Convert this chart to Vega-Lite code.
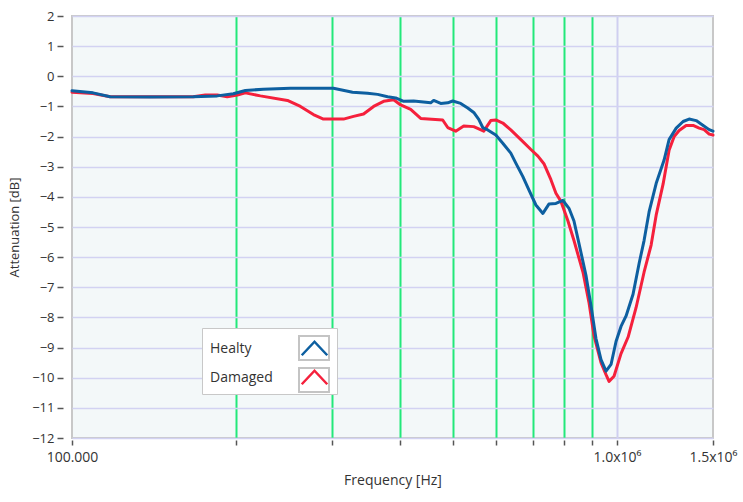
{
  "$schema": "https://vega.github.io/schema/vega-lite/v6.json",
  "autosize": "none",
  "width": 641,
  "height": 422,
  "padding": {"left": 72, "top": 16, "right": 30, "bottom": 64},
  "background": "white",
  "config": {
    "view": {"fill": "#f3f8f9", "stroke": "#c8c8c8", "strokeWidth": 2},
    "font": "Open Sans"
  },
  "data": {
    "values": [
      {"s": "Damaged", "f": 100000, "db": -0.53},
      {"s": "Damaged", "f": 109300, "db": -0.57},
      {"s": "Damaged", "f": 117500, "db": -0.68},
      {"s": "Damaged", "f": 166900, "db": -0.68},
      {"s": "Damaged", "f": 175600, "db": -0.62},
      {"s": "Damaged", "f": 184700, "db": -0.62},
      {"s": "Damaged", "f": 192700, "db": -0.68},
      {"s": "Damaged", "f": 201100, "db": -0.62},
      {"s": "Damaged", "f": 208000, "db": -0.55},
      {"s": "Damaged", "f": 221600, "db": -0.65},
      {"s": "Damaged", "f": 248500, "db": -0.80},
      {"s": "Damaged", "f": 262500, "db": -1.00},
      {"s": "Damaged", "f": 277300, "db": -1.27},
      {"s": "Damaged", "f": 289300, "db": -1.42},
      {"s": "Damaged", "f": 314900, "db": -1.42},
      {"s": "Damaged", "f": 328500, "db": -1.33},
      {"s": "Damaged", "f": 342700, "db": -1.25},
      {"s": "Damaged", "f": 357600, "db": -1.00},
      {"s": "Damaged", "f": 373000, "db": -0.83},
      {"s": "Damaged", "f": 389200, "db": -0.78},
      {"s": "Damaged", "f": 400900, "db": -0.95},
      {"s": "Damaged", "f": 418200, "db": -1.10},
      {"s": "Damaged", "f": 436300, "db": -1.40},
      {"s": "Damaged", "f": 478800, "db": -1.45},
      {"s": "Damaged", "f": 489100, "db": -1.70},
      {"s": "Damaged", "f": 505800, "db": -1.82},
      {"s": "Damaged", "f": 523300, "db": -1.65},
      {"s": "Damaged", "f": 545900, "db": -1.67},
      {"s": "Damaged", "f": 569500, "db": -1.82},
      {"s": "Damaged", "f": 586600, "db": -1.47},
      {"s": "Damaged", "f": 599200, "db": -1.45},
      {"s": "Damaged", "f": 617200, "db": -1.55},
      {"s": "Damaged", "f": 638400, "db": -1.78},
      {"s": "Damaged", "f": 666100, "db": -2.10},
      {"s": "Damaged", "f": 695000, "db": -2.43},
      {"s": "Damaged", "f": 715900, "db": -2.65},
      {"s": "Damaged", "f": 734300, "db": -2.90},
      {"s": "Damaged", "f": 756300, "db": -3.43},
      {"s": "Damaged", "f": 772500, "db": -3.88},
      {"s": "Damaged", "f": 789100, "db": -4.15},
      {"s": "Damaged", "f": 812800, "db": -4.80},
      {"s": "Damaged", "f": 833700, "db": -5.45},
      {"s": "Damaged", "f": 866100, "db": -6.50},
      {"s": "Damaged", "f": 888200, "db": -7.50},
      {"s": "Damaged", "f": 907200, "db": -8.60},
      {"s": "Damaged", "f": 934600, "db": -9.50},
      {"s": "Damaged", "f": 954600, "db": -9.90},
      {"s": "Damaged", "f": 966800, "db": -10.12},
      {"s": "Damaged", "f": 987400, "db": -9.95},
      {"s": "Damaged", "f": 1017000, "db": -9.20},
      {"s": "Damaged", "f": 1048000, "db": -8.65},
      {"s": "Damaged", "f": 1084000, "db": -7.67},
      {"s": "Damaged", "f": 1121000, "db": -6.50},
      {"s": "Damaged", "f": 1155000, "db": -5.60},
      {"s": "Damaged", "f": 1180000, "db": -4.60},
      {"s": "Damaged", "f": 1215000, "db": -3.57},
      {"s": "Damaged", "f": 1246000, "db": -2.45},
      {"s": "Damaged", "f": 1273000, "db": -2.00},
      {"s": "Damaged", "f": 1300000, "db": -1.80},
      {"s": "Damaged", "f": 1339000, "db": -1.63},
      {"s": "Damaged", "f": 1379000, "db": -1.63},
      {"s": "Damaged", "f": 1415000, "db": -1.72},
      {"s": "Damaged", "f": 1445000, "db": -1.77},
      {"s": "Damaged", "f": 1476000, "db": -1.92},
      {"s": "Damaged", "f": 1500000, "db": -1.95},
      {"s": "Healty", "f": 100000, "db": -0.48},
      {"s": "Healty", "f": 109300, "db": -0.55},
      {"s": "Healty", "f": 117500, "db": -0.68},
      {"s": "Healty", "f": 139100, "db": -0.69},
      {"s": "Healty", "f": 166900, "db": -0.68},
      {"s": "Healty", "f": 184700, "db": -0.65},
      {"s": "Healty", "f": 197700, "db": -0.58},
      {"s": "Healty", "f": 208000, "db": -0.47},
      {"s": "Healty", "f": 224400, "db": -0.43},
      {"s": "Healty", "f": 251600, "db": -0.40},
      {"s": "Healty", "f": 301800, "db": -0.40},
      {"s": "Healty", "f": 327100, "db": -0.53},
      {"s": "Healty", "f": 348600, "db": -0.56},
      {"s": "Healty", "f": 363700, "db": -0.60},
      {"s": "Healty", "f": 379400, "db": -0.68},
      {"s": "Healty", "f": 392500, "db": -0.72},
      {"s": "Healty", "f": 406000, "db": -0.83},
      {"s": "Healty", "f": 423500, "db": -0.82},
      {"s": "Healty", "f": 455100, "db": -0.88},
      {"s": "Healty", "f": 460900, "db": -0.80},
      {"s": "Healty", "f": 474800, "db": -0.90},
      {"s": "Healty", "f": 489100, "db": -0.88},
      {"s": "Healty", "f": 499500, "db": -0.82},
      {"s": "Healty", "f": 516600, "db": -0.90},
      {"s": "Healty", "f": 532200, "db": -1.05},
      {"s": "Healty", "f": 545900, "db": -1.20},
      {"s": "Healty", "f": 557600, "db": -1.43},
      {"s": "Healty", "f": 567100, "db": -1.70},
      {"s": "Healty", "f": 579200, "db": -1.78},
      {"s": "Healty", "f": 599200, "db": -1.95},
      {"s": "Healty", "f": 617200, "db": -2.22},
      {"s": "Healty", "f": 638400, "db": -2.55},
      {"s": "Healty", "f": 652100, "db": -2.88},
      {"s": "Healty", "f": 671800, "db": -3.33},
      {"s": "Healty", "f": 689100, "db": -3.77},
      {"s": "Healty", "f": 709800, "db": -4.27},
      {"s": "Healty", "f": 731100, "db": -4.55},
      {"s": "Healty", "f": 749900, "db": -4.24},
      {"s": "Healty", "f": 772500, "db": -4.22},
      {"s": "Healty", "f": 795800, "db": -4.12},
      {"s": "Healty", "f": 816300, "db": -4.38},
      {"s": "Healty", "f": 833700, "db": -4.80},
      {"s": "Healty", "f": 848000, "db": -5.40},
      {"s": "Healty", "f": 877000, "db": -6.60},
      {"s": "Healty", "f": 895700, "db": -7.60},
      {"s": "Healty", "f": 914900, "db": -8.70},
      {"s": "Healty", "f": 934600, "db": -9.40},
      {"s": "Healty", "f": 954600, "db": -9.78},
      {"s": "Healty", "f": 975000, "db": -9.56},
      {"s": "Healty", "f": 995800, "db": -8.80},
      {"s": "Healty", "f": 1017000, "db": -8.30},
      {"s": "Healty", "f": 1039000, "db": -7.95},
      {"s": "Healty", "f": 1070000, "db": -7.23},
      {"s": "Healty", "f": 1098000, "db": -6.20},
      {"s": "Healty", "f": 1121000, "db": -5.45},
      {"s": "Healty", "f": 1145000, "db": -4.50},
      {"s": "Healty", "f": 1180000, "db": -3.55},
      {"s": "Healty", "f": 1220000, "db": -2.78},
      {"s": "Healty", "f": 1246000, "db": -2.10},
      {"s": "Healty", "f": 1284000, "db": -1.72},
      {"s": "Healty", "f": 1322000, "db": -1.50},
      {"s": "Healty", "f": 1356000, "db": -1.42},
      {"s": "Healty", "f": 1397000, "db": -1.47},
      {"s": "Healty", "f": 1439000, "db": -1.63},
      {"s": "Healty", "f": 1476000, "db": -1.77},
      {"s": "Healty", "f": 1500000, "db": -1.82}
    ]
  },
  "encoding": {
    "x": {
      "field": "f",
      "type": "quantitative",
      "scale": {"type": "log", "domain": [100000, 1500000], "nice": false},
      "axis": {
        "title": "Frequency [Hz]",
        "values": [100000, 200000, 300000, 400000, 500000, 600000, 700000, 800000, 900000, 1000000, 1500000],
        "labelExpr": "datum.value == 100000 ? '100.000' : datum.value == 1000000 ? '1.0x10⁶' : datum.value == 1500000 ? '1.5x10⁶' : ''",
        "domain": false,
        "offset": 2,
        "tickSize": 5,
        "tickColor": "#555555",
        "tickWidth": 1.5,
        "labelPadding": 5,
        "labelFontSize": 14,
        "labelColor": "#333333",
        "labelFlush": false,
        "labelOverlap": false,
        "titleFontSize": 14,
        "titleFontWeight": "normal",
        "titleColor": "#333333",
        "titlePadding": 9,
        "grid": true,
        "gridWidth": 2,
        "gridColor": {
          "condition": [
            {"test": "datum.value == 1000000", "value": "#cfcff0"},
            {"test": "datum.value < 150000 || datum.value > 1400000", "value": "transparent"}
          ],
          "value": "#22e87a"
        }
      }
    },
    "y": {
      "field": "db",
      "type": "quantitative",
      "scale": {"domain": [-12, 2], "nice": false},
      "axis": {
        "title": "Attenuation [dB]",
        "values": [-12, -11, -10, -9, -8, -7, -6, -5, -4, -3, -2, -1, 0, 1, 2],
        "format": "d",
        "domain": false,
        "offset": 9,
        "tickSize": 6,
        "tickColor": "#555555",
        "tickWidth": 1.5,
        "labelPadding": 3,
        "labelFontSize": 13,
        "labelColor": "#333333",
        "titleFontSize": 13,
        "titleFontWeight": "normal",
        "titleColor": "#333333",
        "titlePadding": 10,
        "grid": true,
        "gridColor": "#d2d2f2",
        "gridWidth": 1.5
      }
    }
  },
  "layer": [
    {
      "mark": {"type": "line", "strokeWidth": 3, "strokeJoin": "round", "strokeCap": "round"},
      "encoding": {
        "color": {
          "field": "s",
          "type": "nominal",
          "scale": {"domain": ["Healty", "Damaged"], "range": ["#0d5fa0", "#f5203c"]},
          "legend": {
            "orient": "none",
            "legendX": 130,
            "legendY": 312,
            "zindex": 1,
            "title": null,
            "direction": "vertical",
            "padding": 4,
            "strokeColor": "#c8c8c8",
            "fillColor": "white",
            "symbolType": "M-0.85,0.45L0,-0.45L0.85,0.45",
            "symbolSize": 900,
            "symbolStrokeWidth": 2.5,
            "symbolFillColor": "transparent",
            "symbolOffset": 92,
            "labelOffset": -121,
            "labelFontSize": 14,
            "labelColor": "#333333",
            "labelLimit": 200,
            "rowPadding": 0
          }
        }
      }
    },
    {
      "mark": {"type": "point", "filled": false, "color": "#c4c4c4", "opacity": 0},
      "encoding": {
        "shape": {
          "field": "s",
          "type": "nominal",
          "scale": {"range": ["M-1,-0.8H1V0.8H-1Z", "M-1,-0.8H1V0.8H-1Z"]},
          "legend": {
            "orient": "none",
            "legendX": 130,
            "legendY": 312,
            "zindex": 2,
            "title": null,
            "direction": "vertical",
            "padding": 4,
            "symbolSize": 900,
            "symbolStrokeWidth": 2,
            "symbolOpacity": 1,
            "symbolFillColor": "transparent",
            "symbolOffset": 92,
            "labelOffset": -121,
            "labelFontSize": 14,
            "labelExpr": "''",
            "labelLimit": 200,
            "rowPadding": 0
          }
        }
      }
    }
  ]
}
